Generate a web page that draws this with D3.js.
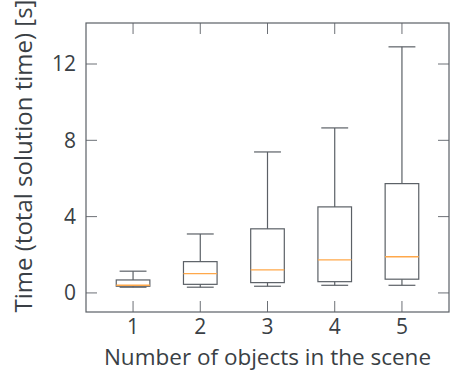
<!DOCTYPE html>
<html>
<head>
<meta charset="utf-8">
<script src="https://cdn.jsdelivr.net/npm/d3@7"></script>
<style>
  body { margin: 0; background: #fff; }
  text { font-family: "Open Sans", "DejaVu Sans", sans-serif; fill: #3a3f45; }
</style>
</head>
<body>
<svg width="450" height="372"></svg>
<script>
const categories = [1, 2, 3, 4, 5];
const whiskerLow = [0.30, 0.30, 0.35, 0.40, 0.40];
const q1 = [0.35, 0.45, 0.54, 0.59, 0.72];
const median = [0.40, 1.01, 1.21, 1.73, 1.90];
const q3 = [0.68, 1.64, 3.36, 4.51, 5.73];
const whiskerHigh = [1.14, 3.09, 7.39, 8.65, 12.9];
const yTicks = [0, 4, 8, 12];

const svg = d3.select("svg");
const margin = { left: 86, top: 23, right: 1, bottom: 60 };
const width = 450 - margin.left - margin.right;
const height = 372 - margin.top - margin.bottom;

const x = d3.scaleLinear().domain([0.3, 5.7]).range([0, width]);
const y = d3.scaleLinear().domain([-1, 14.15]).range([height, 0]);

const g = svg.append("g").attr("transform", `translate(${margin.left},${margin.top})`);
const lineColor = "#5b6066";

// frame
g.append("rect")
    .attr("width", width)
    .attr("height", height)
    .attr("fill", "none")
    .attr("stroke", lineColor)
    .attr("stroke-width", 1.2);

// ticks on all sides (inward)
const tickLen = 11;
categories.forEach(c => {
    g.append("line").attr("x1", x(c)).attr("x2", x(c)).attr("y1", height).attr("y2", height - tickLen)
        .attr("stroke", lineColor).attr("stroke-width", 0.9);
    g.append("line").attr("x1", x(c)).attr("x2", x(c)).attr("y1", 0).attr("y2", tickLen)
        .attr("stroke", lineColor).attr("stroke-width", 0.9);
    g.append("text").attr("x", x(c)).attr("y", height + 22)
        .attr("text-anchor", "middle").attr("font-size", 21).text(c);
});
yTicks.forEach(t => {
    g.append("line").attr("x1", 0).attr("x2", tickLen).attr("y1", y(t)).attr("y2", y(t))
        .attr("stroke", lineColor).attr("stroke-width", 0.9);
    g.append("line").attr("x1", width).attr("x2", width - tickLen).attr("y1", y(t)).attr("y2", y(t))
        .attr("stroke", lineColor).attr("stroke-width", 0.9);
    g.append("text").attr("x", -10).attr("y", y(t)).attr("dy", "0.35em")
        .attr("text-anchor", "end").attr("font-size", 21).text(t);
});

// boxes
const boxW = x(0.5) - x(0);
const capW = x(0.4) - x(0);
categories.forEach((c, i) => {
    const cx = x(c);
    const b = g.append("g");
    b.append("line").attr("x1", cx).attr("x2", cx).attr("y1", y(q3[i])).attr("y2", y(whiskerHigh[i]))
        .attr("stroke", lineColor).attr("stroke-width", 1.2);
    b.append("line").attr("x1", cx).attr("x2", cx).attr("y1", y(q1[i])).attr("y2", y(whiskerLow[i]))
        .attr("stroke", lineColor).attr("stroke-width", 1.2);
    b.append("line").attr("x1", cx - capW / 2).attr("x2", cx + capW / 2)
        .attr("y1", y(whiskerHigh[i])).attr("y2", y(whiskerHigh[i]))
        .attr("stroke", lineColor).attr("stroke-width", 1.2);
    b.append("line").attr("x1", cx - capW / 2).attr("x2", cx + capW / 2)
        .attr("y1", y(whiskerLow[i])).attr("y2", y(whiskerLow[i]))
        .attr("stroke", lineColor).attr("stroke-width", 1.2);
    b.append("rect").attr("x", cx - boxW / 2).attr("width", boxW)
        .attr("y", y(q3[i])).attr("height", y(q1[i]) - y(q3[i]))
        .attr("fill", "none").attr("stroke", lineColor).attr("stroke-width", 1.2);
    b.append("line").attr("x1", cx - boxW / 2).attr("x2", cx + boxW / 2)
        .attr("y1", y(median[i])).attr("y2", y(median[i]))
        .attr("stroke", "#ffa84a").attr("stroke-width", 1.4);
});

// axis labels
svg.append("text")
    .attr("x", margin.left + width / 2)
    .attr("y", 365)
    .attr("text-anchor", "middle")
    .attr("font-size", 22.5)
    .text("Number of objects in the scene");

svg.append("text")
    .attr("transform", `translate(32,${156}) rotate(-90)`)
    .attr("text-anchor", "middle")
    .attr("font-size", 24)
    .text("Time (total solution time) [s]");
</script>
</body>
</html>
